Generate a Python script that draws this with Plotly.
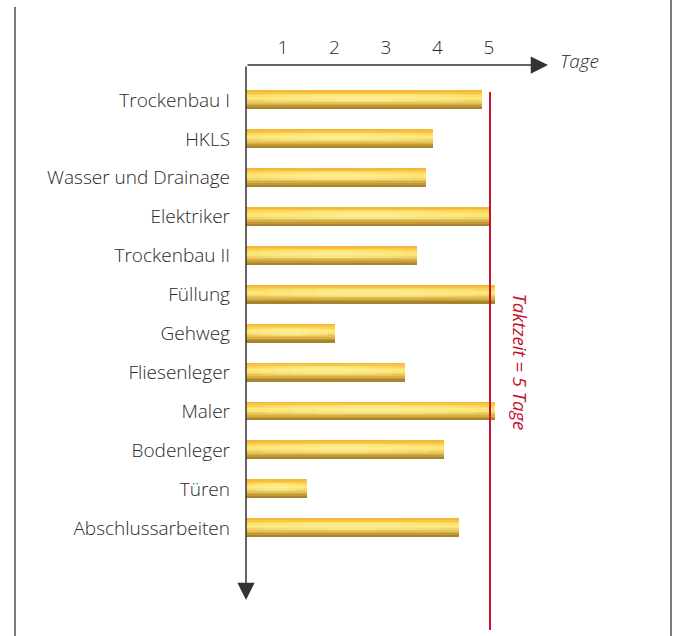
import plotly.graph_objects as go

# ---------------- data ----------------
categories = ["Trockenbau I", "HKLS", "Wasser und Drainage", "Elektriker", "Trockenbau II",
              "Füllung", "Gehweg", "Fliesenleger", "Maler", "Bodenleger", "Türen",
              "Abschlussarbeiten"]
days = [4.84, 3.83, 3.69, 4.98, 3.50, 5.10, 1.82, 3.26, 5.10, 4.06, 1.25, 4.36]
tick_labels = ["1", "2", "3", "4", "5"]
tick_days = [1, 2, 3, 4, 5]
takt = 5
takt_label = "Taktzeit = 5 Tage"
axis_label = "Tage"

# ---------------- layout helpers ----------------
W, H = 675, 636
def px(x):
    return x / W
def py(y):
    return 1 - y / H

X0, X1 = 246, 620          # plot area (pixels)
Y0, Y1 = 65, 600
UNIT = 48.8                # px per day (bars)
x_range = [0, (X1 - X0) / UNIT]
# tick labels are laid out on a slightly different printed scale
tick_vals = [(231.5 + 51.5 * d - X0) / UNIT for d in tick_days]

ROW = 38.9
y_range = [(Y1 - 100) / ROW, (Y0 - 100) / ROW]

fig = go.Figure()

# gradient bars made of stacked horizontal strips
strips = ["#f4b834", "#f8c544", "#fbd358", "#fce06a", "#fde97a", "#fbe377",
          "#f3d468", "#e7c256", "#d5ae44", "#c19a37", "#a8852c"]
bar_w = 0.47
n = len(strips)
sw = bar_w / n
for i, c in enumerate(strips):
    fig.add_trace(go.Bar(
        x=days, y=categories, orientation="h", base=0,
        width=sw * 1.05, offset=-bar_w / 2 + i * sw,
        marker=dict(color=c, line=dict(width=0)),
        hoverinfo="skip", showlegend=False))

# soft lighter centre highlight along the bar length (several faint layers)
for f0 in [0.08, 0.18, 0.28, 0.38]:
    fig.add_trace(go.Bar(
        x=[d * (1 - 2 * f0) for d in days], y=categories, orientation="h",
        base=[d * f0 for d in days],
        width=sw * 5, offset=-bar_w / 2 + 2 * sw,
        marker=dict(color="#fff6a0", line=dict(width=0), opacity=0.18),
        hoverinfo="skip", showlegend=False))

label_font = dict(size=19, color="#2a2a2a", family="Open Sans", weight=300)

fig.update_layout(
    width=W, height=H, margin=dict(l=0, r=0, t=0, b=0),
    paper_bgcolor="white", plot_bgcolor="white",
    barmode="overlay", bargap=0,
    font=dict(family="Open Sans", color="#2a2a2a"),
    xaxis=dict(domain=[px(X0), px(X1)], range=x_range, side="top",
               showgrid=False, zeroline=False, showline=False,
               tickvals=tick_vals, ticktext=tick_labels, ticks="",
               ticklabelstandoff=6, tickfont=label_font),
    yaxis=dict(domain=[py(Y1), py(Y0)], type="category",
               categoryorder="array", categoryarray=categories, range=y_range,
               showgrid=False, zeroline=False, showline=False, ticks="",
               ticklabelstandoff=15, tickfont=label_font),
)

# frame lines
fig.add_shape(type="line", xref="paper", yref="paper", x0=px(15), x1=px(15),
              y0=py(7), y1=py(636), line=dict(color="#7a7a7a", width=2))
fig.add_shape(type="line", xref="paper", yref="paper", x0=px(671), x1=px(671),
              y0=py(0), y1=py(636), line=dict(color="#7a7a7a", width=2))

# takt line
fig.add_shape(type="line", xref="x", yref="paper", x0=takt, x1=takt,
              y0=py(92), y1=py(630), line=dict(color="#c4122f", width=2))

# axis arrows
fig.add_annotation(x=px(548), y=py(65), xref="paper", yref="paper",
                   ax=-(548 - X0), ay=0, text="", showarrow=True,
                   arrowhead=2, arrowsize=2.3, arrowwidth=1.5, arrowcolor="#333333",
                   standoff=0)
fig.add_annotation(x=px(X0), y=py(600), xref="paper", yref="paper",
                   ax=0, ay=-(600 - 65), text="", showarrow=True,
                   arrowhead=2, arrowsize=2.3, arrowwidth=1.5, arrowcolor="#333333",
                   standoff=0)

# labels
fig.add_annotation(x=px(558), y=py(61), xref="paper", yref="paper",
                   xanchor="left", yanchor="middle",
                   text="<i>" + axis_label + "</i>", showarrow=False,
                   font=dict(size=19, color="#2a2a2a", family="Open Sans", weight=300))
fig.add_annotation(x=px(506), y=py(362), xref="paper", yref="paper",
                   xanchor="left", yanchor="middle",
                   text="<i>" + takt_label + "</i>", showarrow=False, textangle=90,
                   font=dict(size=18.5, color="#c4122f", family="Open Sans"))

fig.write_html("out.html")
